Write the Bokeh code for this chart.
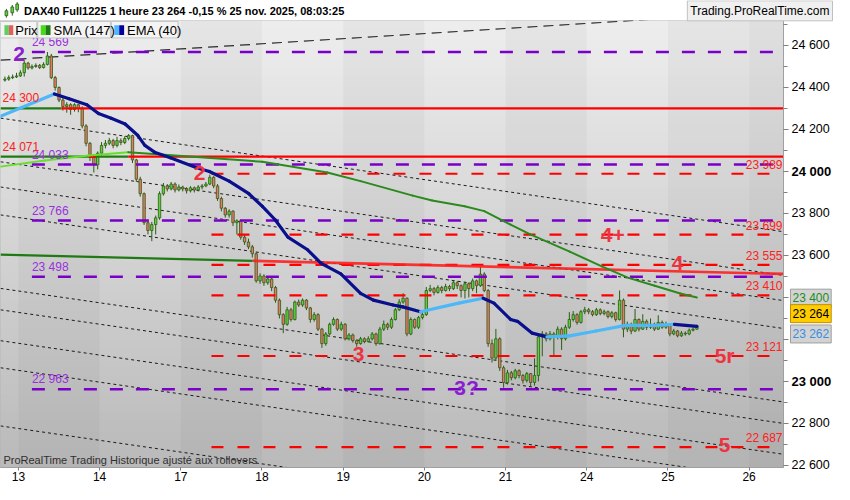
import numpy as np
from bokeh.plotting import figure
from bokeh.layouts import column
from bokeh.models import Range1d, FixedTicker, Label, ColumnDataSource
from bokeh.core.properties import value
from bokeh.embed import file_html
from bokeh.resources import INLINE

# ------------------------------------------------
# Donnees : DAX40 Full1225, bougies 1 heure
# index de barre : 0 = premiere barre du 13 nov., 21 barres par jour
# ------------------------------------------------
premier_index = -4
premiere_ouverture = 24435

clotures = [
    24440, 24447, 24450, 24455,
    24470, 24516, 24493, 24500, 24505, 24495, 24510, 24550, 24447, 24400, 24340, 24309, 24318, 24295, 24318, 24300, 24217, 24134, 24069, 24032, 24087,
    24124, 24134, 24147, 24124, 24147, 24138, 24157, 24171, 24055, 23963, 23894, 23756, 23719, 23747, 23779, 23894, 23931, 23917, 23940, 23912, 23926,
    23917, 23908, 23922, 23912, 23926, 23931, 23940, 23972, 23931, 23871, 23825, 23793, 23811, 23756, 23765, 23687, 23664, 23641, 23608, 23479, 23502,
    23470, 23488, 23447, 23387, 23318, 23272, 23341, 23295, 23378, 23364, 23387, 23350, 23295, 23318, 23249, 23180, 23226, 23272, 23295, 23249, 23272,
    23203, 23221, 23194, 23180, 23203, 23190, 23203, 23226, 23180, 23249, 23272, 23258, 23295, 23341, 23378, 23396, 23226, 23295, 23258, 23304, 23318,
    23433, 23442, 23424, 23447, 23433, 23452, 23442, 23470, 23456, 23433, 23465, 23442, 23479, 23456, 23511, 23433, 23180, 23111, 23203, 23065, 22995,
    23041, 23018, 23051, 23028, 23005, 23037, 22995, 23028, 23212, 23226, 23203, 23226, 23212, 23249, 23203, 23258, 23295, 23318, 23281, 23332, 23341,
    23332, 23318, 23341, 23323, 23332, 23309, 23327, 23295, 23387, 23249, 23272, 23240, 23295, 23249, 23286, 23258, 23272, 23249, 23281, 23258, 23272,
    23226, 23240, 23217, 23230, 23226, 23244, 23249, 23264,
]

plus_hauts = [
    24452, 24458, 24462, 24470,
    24482, 24530, 24522, 24510, 24515, 24512, 24520, 24569, 24560, 24455, 24405, 24350, 24330, 24325, 24325, 24322, 24310, 24225, 24140, 24080, 24095,
    24140, 24150, 24160, 24155, 24165, 24158, 24168, 24178, 24175, 24060, 23975, 23900, 23765, 23760, 23790, 23905, 23945, 23940, 23950, 23948, 23938,
    23932, 23925, 23930, 23928, 23935, 23940, 23950, 23985, 23978, 23940, 23880, 23830, 23820, 23815, 23772, 23770, 23700, 23680, 23650, 23615, 23515,
    23510, 23500, 23495, 23455, 23395, 23325, 23355, 23350, 23385, 23390, 23395, 23392, 23355, 23330, 23325, 23255, 23235, 23280, 23305, 23300, 23285,
    23278, 23230, 23228, 23200, 23212, 23210, 23215, 23235, 23232, 23260, 23290, 23280, 23305, 23350, 23392, 23420, 23400, 23305, 23300, 23312, 23330,
    23450, 23460, 23450, 23458, 23455, 23465, 23460, 23480, 23478, 23462, 23475, 23472, 23490, 23485, 23548, 23520, 23440, 23200, 23250, 23210, 23075,
    23055, 23050, 23060, 23058, 23035, 23045, 23040, 23110, 23220, 23240, 23235, 23240, 23235, 23262, 23258, 23270, 23330, 23335, 23325, 23340, 23355,
    23350, 23340, 23350, 23348, 23342, 23338, 23335, 23332, 23433, 23395, 23285, 23280, 23345, 23300, 23320, 23295, 23300, 23280, 23315, 23290, 23285,
    23278, 23250, 23245, 23240, 23238, 23252, 23258, 23270,
]

plus_bas = [
    24428, 24432, 24440, 24445,
    24450, 24452, 24485, 24486, 24494, 24488, 24490, 24505, 24440, 24385, 24330, 24290, 24280, 24270, 24285, 24282, 24205, 24120, 24050, 23995, 24010,
    24075, 24110, 24125, 24110, 24115, 24125, 24130, 24148, 24040, 23950, 23880, 23745, 23700, 23668, 23700, 23770, 23885, 23905, 23910, 23900, 23905,
    23905, 23895, 23900, 23900, 23905, 23915, 23925, 23935, 23920, 23860, 23810, 23780, 23780, 23740, 23700, 23675, 23650, 23630, 23590, 23470, 23465,
    23455, 23460, 23430, 23375, 23300, 23230, 23265, 23285, 23290, 23355, 23355, 23340, 23280, 23285, 23240, 23160, 23170, 23220, 23265, 23240, 23240,
    23195, 23195, 23185, 23165, 23175, 23182, 23185, 23195, 23170, 23175, 23240, 23245, 23250, 23290, 23335, 23370, 23215, 23220, 23250, 23250, 23295,
    23312, 23425, 23410, 23418, 23420, 23428, 23430, 23435, 23440, 23400, 23395, 23400, 23430, 23420, 23450, 23425, 23165, 23090, 23100, 23050, 22970,
    22985, 23005, 23010, 23015, 22990, 22995, 22975, 22980, 23000, 23120, 23190, 23195, 23120, 23200, 23150, 23195, 23250, 23285, 23270, 23275, 23320,
    23320, 23310, 23312, 23315, 23315, 23300, 23300, 23285, 23290, 23210, 23235, 23225, 23235, 23238, 23245, 23245, 23250, 23240, 23245, 23250, 23250,
    23215, 23220, 23210, 23212, 23218, 23220, 23238, 23245,
]

jours = ["13", "14", "17", "18", "19", "20", "21", "24", "25", "26"]
barres_par_jour = 21

# Moyennes mobiles (position en barres, valeur)
sma_x = [-4.64, 6.8, 18.2, 28.4, 46.1, 63.1, 79.9, 88.5, 102.0, 107.0, 115.4, 120.5, 127.3, 132.4, 142.6, 150.9, 157.8, 164.6, 171.2, 175.5]
sma_y = [24023, 24052, 24076, 24092, 24069, 24046, 23995, 23954, 23885, 23862, 23834, 23811, 23747, 23700, 23618, 23548, 23493, 23456, 23419, 23400]

ema_x = [-4.64, 9.3, 13.1, 17.7, 20.7, 24.0, 27.6, 30.9, 32.7, 35.2, 39.3, 46.1, 49.4, 54.5, 59.6, 63.1, 66.4, 69.7, 74.8,
         78.3, 83.4, 88.5, 91.8, 96.9, 99.4, 104.0, 113.9, 120.2, 123.0, 127.3, 129.1, 132.9, 136.7, 142.6, 149.4, 157.0, 164.6, 169.7, 175.5]
ema_y = [24263, 24369, 24346, 24318, 24276, 24253, 24226, 24171, 24124, 24092, 24065, 24018, 24000, 23954, 23894, 23834, 23770, 23687, 23627,
         23562, 23512, 23419, 23387, 23364, 23355, 23332, 23373, 23396, 23373, 23295, 23286, 23230, 23212, 23217, 23240, 23267, 23267, 23272, 23262]

# Niveaux horizontaux
niveaux_violets = [24569, 24033, 23766, 23498, 22963]
niveaux_rouges_tirets = [23989, 23699, 23555, 23410, 23121, 22687]
niveaux_rouges_pleins = [24300, 24071]
debut_rouges_pleins = [11.1, 28.4]

# Canal baissier en pointilles (valeur au bord gauche, valeur au bord droit)
canal_debut = [24254, 24046, 23926, 23793, 23443, 23341, 23194, 23065, 22788]
canal_fin = [23713, 23505, 23385, 23252, 22902, 22800, 22653, 22524, 22247]

# Oblique rouge (verte au debut) et oblique haussiere en tirets
oblique_rouge = (23604, 23512)
oblique_haute = (24530, 24764)

dernier_cours = 23264
valeur_sma = 23400
valeur_ema = 23262
titre = "DAX40 Full1225 1 heure 23 264 -0,15 % 25 nov. 2025, 08:03:25"

# ------------------------------------------------
# Repere : pixels de la capture -> coordonnees
# ------------------------------------------------
X0, X1 = -4.64, 197.9
Y0, Y1 = 22590, 24719
LARGEUR, HAUTEUR = 834, 484
BORD_HAUT, BORD_BAS, BORD_DROIT = 20, 17, 51


def px(x):
    return X0 + x / 3.94


def py(y):
    return Y1 - (y - 21) * 4.608


def fmt(v):
    return f"{v:,}".replace(",", " ")


POLICE = value("Liberation Sans")

p = figure(
    width=LARGEUR, height=HAUTEUR,
    x_range=Range1d(X0, X1), y_range=Range1d(Y0, Y1),
    y_axis_location="right",
    toolbar_location=None, output_backend="svg", title=None,
    min_border_left=0, min_border_right=BORD_DROIT, min_border_top=BORD_HAUT, min_border_bottom=BORD_BAS,
    border_fill_color="white", background_fill_color="#d8d8d8",
    outline_line_color="#b0b0b0",
)
p.grid.visible = False

# ------------------------------------------------
# Fond degrade + bandes par jour
# ------------------------------------------------
n = 48
bords = np.linspace(Y0, Y1, n + 1)
haut = np.array([238, 238, 238])
bas = np.array([186, 186, 186])
couleurs = []
for k in range(n):
    t = (k + 0.5) / n
    c = bas + (haut - bas) * t
    couleurs.append("#%02x%02x%02x" % tuple(int(v) for v in c))
p.quad(left=X0, right=X1, bottom=bords[:-1], top=bords[1:], fill_color=couleurs, line_color=couleurs)

gauches = [d * barres_par_jour for d in range(0, len(jours), 2)]
p.quad(left=gauches, right=[g + barres_par_jour for g in gauches], bottom=Y0, top=Y1,
       fill_color="black", fill_alpha=0.03, line_color=None)
p.quad(left=(len(jours) - 1) * barres_par_jour, right=X1, bottom=Y0, top=Y1,
       fill_color="black", fill_alpha=0.06, line_color=None)

# ------------------------------------------------
# Lignes de tendance
# ------------------------------------------------
p.segment(x0=X0, y0=canal_debut, x1=X1, y1=canal_fin, line_color="#1a1a1a", line_width=1, line_dash="3 3")
p.segment(x0=X0, y0=oblique_haute[0], x1=X1, y1=oblique_haute[1], line_color="#2a2a2a", line_width=1.2, line_dash="10 6")

# ------------------------------------------------
# Bougies
# ------------------------------------------------
xs = [premier_index + k + 0.5 for k in range(len(clotures))]
ouvertures = [premiere_ouverture] + clotures[:-1]
src = ColumnDataSource(dict(
    x=xs, h=plus_hauts, l=plus_bas,
    top=[max(o, c) for o, c in zip(ouvertures, clotures)],
    bottom=[min(o, c) for o, c in zip(ouvertures, clotures)],
    fill=["#5fd040" if c >= o else "#e87a66" for o, c in zip(ouvertures, clotures)],
))
p.segment(x0="x", y0="h", x1="x", y1="l", source=src, line_color="#2d5a14", line_width=1)
p.vbar(x="x", width=0.62, top="top", bottom="bottom", fill_color="fill",
       line_color="#2d5a14", line_width=0.8, source=src)

# ------------------------------------------------
# Niveaux horizontaux
# ------------------------------------------------
p.segment(x0=px(32), y0=niveaux_violets, x1=X1, y1=niveaux_violets,
          line_color="#7a00c8", line_width=2.5, line_dash="13 13")
p.segment(x0=px(215), y0=niveaux_rouges_tirets, x1=X1, y1=niveaux_rouges_tirets,
          line_color="#ff0000", line_width=2.2, line_dash="12 14")

p.segment(x0=X0, y0=niveaux_rouges_pleins, x1=debut_rouges_pleins, y1=niveaux_rouges_pleins,
          line_color="#1f7a14", line_width=2.2)
p.segment(x0=debut_rouges_pleins, y0=niveaux_rouges_pleins, x1=X1, y1=niveaux_rouges_pleins,
          line_color="#ff0000", line_width=2.2)
p.segment(x0=18.2, y0=24071, x1=20.0, y1=24071, line_color="#ff0000", line_width=2.2)

coupure = 60.6
y_coupure = oblique_rouge[0] + (coupure - X0) / (X1 - X0) * (oblique_rouge[1] - oblique_rouge[0])
p.segment(x0=X0, y0=oblique_rouge[0], x1=coupure, y1=y_coupure, line_color="#1f7a14", line_width=2.2)
p.segment(x0=coupure, y0=y_coupure, x1=X1, y1=oblique_rouge[1], line_color="#ff2020", line_width=2.6, line_alpha=0.9)


# ------------------------------------------------
# Moyennes mobiles (claires en hausse, foncees en baisse)
# ------------------------------------------------
def moyenne(xv, yv, clair, fonce, epaisseur):
    p.segment(x0=xv[:-1], y0=yv[:-1], x1=xv[1:], y1=yv[1:],
              line_color=[clair if b >= a else fonce for a, b in zip(yv[:-1], yv[1:])],
              line_width=epaisseur, line_cap="round")


moyenne(sma_x, sma_y, "#66e02a", "#2a8a1c", 2)
moyenne(ema_x, ema_y, "#4db8f8", "#0a108c", 3.2)

# ------------------------------------------------
# Textes sur le graphique
# ------------------------------------------------
p.text(x=[px(32)] * len(niveaux_violets), y=niveaux_violets, text=[fmt(v) for v in niveaux_violets],
       text_color="#9a30dc", text_font=POLICE, text_font_size="12px", y_offset=-3)
p.text(x=[px(797)] * len(niveaux_rouges_tirets), y=niveaux_rouges_tirets,
       text=[fmt(v) for v in niveaux_rouges_tirets], text_align="right",
       text_color="#ff2020", text_font=POLICE, text_font_size="12px", y_offset=-2)
p.text(x=[px(2)] * 2, y=niveaux_rouges_pleins, text=[fmt(v) for v in niveaux_rouges_pleins],
       text_color="#ff2020", text_font=POLICE, text_font_size="12px", y_offset=-3)

p.text(x=[px(19), px(475)], y=[py(56), py(400)], text=["2", "3?"],
       text_color="#8a1ed0", text_font=POLICE, text_font_style="bold", text_font_size="21px",
       text_align="center", text_baseline="middle")
p.text(x=[px(203), px(365), px(624), px(690), px(738), px(738)],
       y=[py(179), py(366), py(243), py(272), py(367), py(460)],
       text=["2", "3", "4+", "4", "5r", "5"],
       text_color="#ee3340", text_font=POLICE, text_font_style="bold", text_font_size="21px",
       text_align="center", text_baseline="middle")

p.text(x=[px(3)], y=[py(481)], text=["ProRealTime Trading  Historique ajusté aux rollovers"],
       text_color="#303030", text_font=POLICE, text_font_size="11px")

# Legende
p.quad(left=[px(0), px(38), px(113)], right=[px(37), px(112), px(181)],
       bottom=py(39), top=py(22), fill_color="#f4f4f4", line_color="#c4c4c4")
p.quad(left=[px(4), px(41), px(116)], right=[px(8.5), px(46), px(121)],
       bottom=py(36), top=py(26), fill_color=["#5fcf5f", "#44dd11", "#4db8ff"], line_color=None)
p.quad(left=[px(8.5), px(46), px(121)], right=[px(13), px(51), px(126)],
       bottom=py(36), top=py(26), fill_color=["#e06060", "#1d7a14", "#0000a0"], line_color=None)
p.text(x=[px(15), px(54), px(129)], y=py(31), text=["Prix", "SMA (147)", "EMA (40)"],
       text_color="black", text_font=POLICE, text_font_size="13px", text_baseline="middle")

# ------------------------------------------------
# Axes
# ------------------------------------------------
ticks_y = list(range(22600, 24601, 200))
p.yaxis.ticker = FixedTicker(ticks=ticks_y, minor_ticks=list(range(22600, 24701, 100)))
p.yaxis.major_label_overrides = {t: ("" if t in (24000, 23000) else fmt(t)) for t in ticks_y}
p.yaxis.major_label_text_font = "Liberation Sans"
p.yaxis.major_label_text_font_size = "12.5px"
p.yaxis.major_label_text_color = "black"
p.yaxis.major_tick_out = 5
p.yaxis.major_tick_in = 0
p.yaxis.minor_tick_out = 4
p.yaxis.minor_tick_in = 0
p.yaxis.major_label_standoff = 3
p.yaxis.axis_line_color = "#a0a0a0"
p.yaxis.major_tick_line_color = "#808080"
p.yaxis.minor_tick_line_color = "#808080"

ticks_x = [d * barres_par_jour for d in range(len(jours))]
p.xaxis.ticker = FixedTicker(ticks=ticks_x, minor_ticks=[])
p.xaxis.major_label_overrides = dict(zip(ticks_x, jours))
p.xaxis.major_label_text_font = "Liberation Sans"
p.xaxis.major_label_text_font_size = "12px"
p.xaxis.major_label_text_color = "black"
p.xaxis.major_tick_out = 3
p.xaxis.major_tick_in = 0
p.xaxis.major_label_standoff = 1
p.xaxis.axis_line_color = "#a0a0a0"
p.xaxis.major_tick_line_color = "#808080"

# ------------------------------------------------
# Calque transparent par-dessus : en-tete, etiquettes de l'axe
# (memes echelles que le graphique, etendues a tout le canevas)
# ------------------------------------------------
cadre_l = LARGEUR - BORD_DROIT
cadre_h = HAUTEUR - BORD_HAUT - BORD_BAS
kx = (X1 - X0) / cadre_l
ky = (Y1 - Y0) / cadre_h

q = figure(
    width=LARGEUR, height=HAUTEUR,
    x_range=Range1d(X0, X0 + LARGEUR * kx),
    y_range=Range1d(Y0 - BORD_BAS * ky, Y1 + BORD_HAUT * ky),
    x_axis_location=None, y_axis_location=None,
    toolbar_location=None, output_backend="svg", title=None,
    min_border=0, min_border_left=0, min_border_right=0, min_border_top=0, min_border_bottom=0,
    background_fill_alpha=0, border_fill_alpha=0, outline_line_color=None,
    margin=(-HAUTEUR, 0, 0, 0), frame_align=False,
)
q.grid.visible = False

# icone en bougies de l'en-tete
q.segment(x0=[px(6), px(12), px(17)], y0=[py(18), py(16), py(12)],
          x1=[px(6), px(12), px(17)], y1=[py(9), py(5), py(2)], line_color="#2d5a14", line_width=1)
q.vbar(x=[px(6), px(12), px(17)], width=0.7, bottom=[py(16), py(13), py(10)], top=[py(11), py(7), py(4)],
       fill_color="#5fd040", line_color="#2d5a14", line_width=0.8)

q.add_layout(Label(x=px(24), y=py(11), text=titre, text_font="Liberation Sans", text_font_size="11px",
                   text_font_style="bold", text_baseline="middle", text_color="black"))
q.add_layout(Label(x=px(700), y=py(11), text="Trading.ProRealTime.com",
                   text_font="Liberation Sans", text_font_size="12px",
                   text_baseline="middle", text_color="black",
                   background_fill_color="#f0f0f0", border_line_color="#c0c0c0", padding=3))

x_axe = X1 + 8 * kx
for t in (24000, 23000):
    q.add_layout(Label(x=x_axe, y=t, text=fmt(t), text_font="Liberation Sans", text_font_size="13px",
                       text_font_style="bold", text_baseline="middle", text_color="black"))

for val, y_pos, couleur_texte, fond, bord in [
    (valeur_sma, py(308), "#1e8c1e", "#d2d2d2", "#a0a0a0"),
    (dernier_cours, py(324), "black", "#ffcc00", "#c09000"),
    (valeur_ema, py(345), "#3a8ee0", "#d2d2d2", "#a0a0a0"),
]:
    q.add_layout(Label(x=X1 + 7 * kx, y=y_pos, text=fmt(val), text_font="Liberation Sans",
                       text_font_size="12px", text_baseline="middle", text_color=couleur_texte,
                       background_fill_color=fond, border_line_color=bord, padding=2))

page = column(p, q, spacing=0)
open("out.html", "w").write(file_html(page, INLINE))
